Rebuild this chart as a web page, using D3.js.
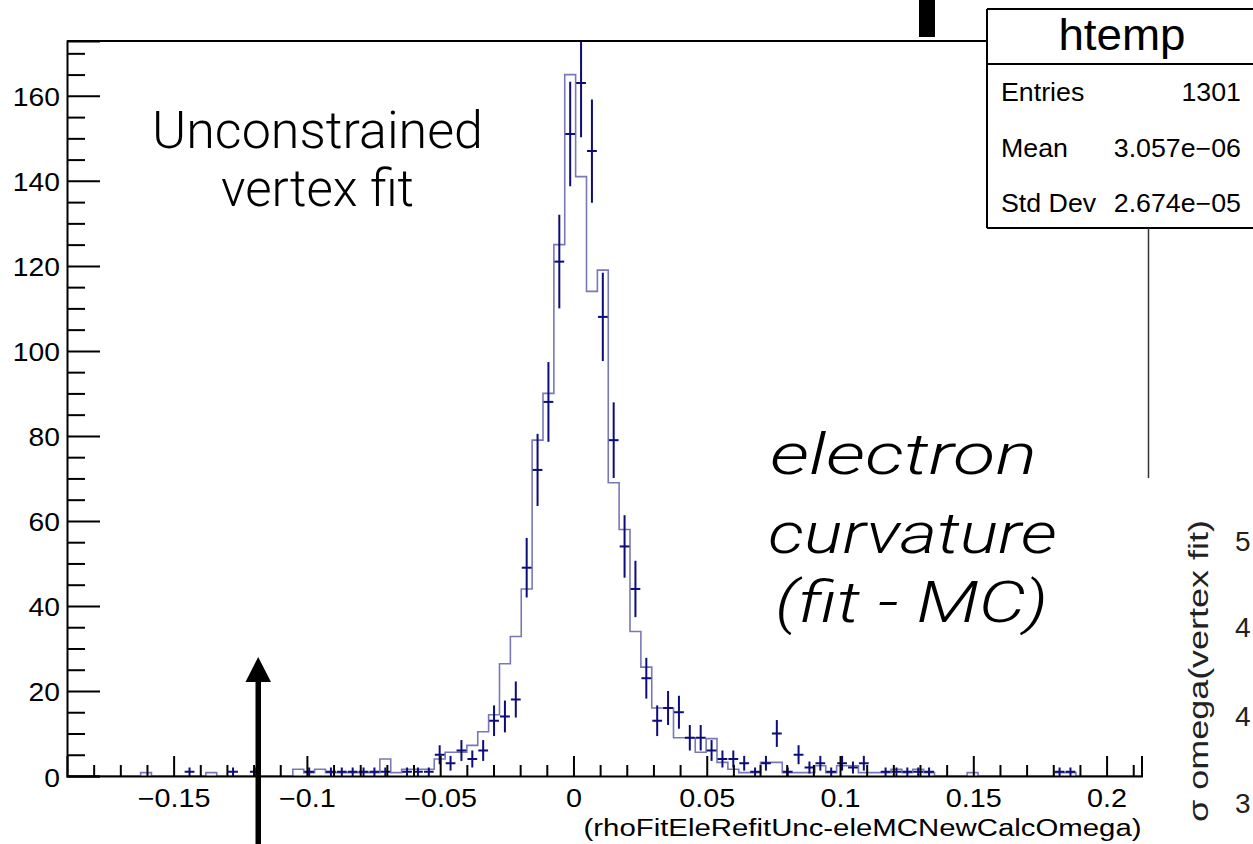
<!DOCTYPE html>
<html><head><meta charset="utf-8">
<script src="https://cdn.jsdelivr.net/npm/d3@7"></script>
<style>html,body{margin:0;padding:0;background:#fff;overflow:hidden}</style>
</head><body>
<svg id="c" width="1253" height="844"></svg>
<script>
// ---- data ----
const binStart = -0.19095;
const binWidth = 0.00408;
// overlaid reference histogram (scaled), bins 0..98
const histValues = [
  0,0,0,0,0,0,0,0.8,0,0,
  0,0,0,0.8,0,0,0,0,0,0,
  0,1.6,0.8,1.6,0.8,0.8,0.8,0.8,0.8,4.0,
  0.8,1.6,1.6,1.6,4.0,5.6,5.6,7.2,10.4,14.4,
  26.4,32.8,44,79,90,125,165,141,114,119,
  69,58,34,25.6,16,16,9,9,5.6,8.8,
  3.2,1.6,0.8,0.8,3.2,3.2,0.8,0.8,0.8,2.4,
  0.8,2.4,2.4,0.8,0.8,0.8,1.6,0.8,1.6,0.8,
  0,0,0,0.8,0,0,0,0,0,0,
  0,0.8,0.8,0,0,0,0,0,0
];
// htemp entries per bin (error-bar points), bins 0..98
const pointCounts = [
  0,0,0,0,0,0,0,0,0,0,
  0,1,0,0,0,1,0,1,0,0,
  0,0,1,0,1,1,1,1,1,1,
  0,1,1,1,5,3,6,4,6,13,
  14,18,49,72,88,121,151,163,147,108,
  79,54,44,23,13,16,15,9,9,6,
  4,4,3,1,3,10,1,5,2,3,
  1,3,2,3,0,1,1,1,1,1,
  0,0,0,0,0,0,0,0,0,0,
  0,1,1,0,0,0,0,0,0
];
const xDomain = [-0.19, 0.2131];
const yDomain = [0, 172.9];
const xTicks = [-0.15, -0.1, -0.05, 0, 0.05, 0.1, 0.15, 0.2];
const xTickLabels = ["\u22120.15", "\u22120.1", "\u22120.05", "0", "0.05", "0.1", "0.15", "0.2"];
const xMinorTicks = d3.range(-18, 22).map(d => d / 100);
const yTicks = [0, 20, 40, 60, 80, 100, 120, 140, 160];
const yMinorTicks = d3.range(5, 175, 5);
const xTitle = "(rhoFitEleRefitUnc-eleMCNewCalcOmega)";
const statTitle = "htemp";
const statNames = ["Entries", "Mean", "Std Dev"];
const statValues = ["1301", "3.057e\u221206", "2.674e\u221205"];
const noteLeft = ["Unconstrained", "vertex fit"];
const noteRight = ["electron", "curvature", "(fit - MC)"];
const sideLabel = "\u03c3 omega(vertex fit)";
const sideTicks = ["5", "4", "4", "3"];

// ---- layout ----
const L = 67, R = 1141.5, T = 41, B = 776;
const ROOT = "'Liberation Sans', Arial, Helvetica, sans-serif";
const LIGHT = "Roboto, 'Open Sans', sans-serif";
const svg = d3.select("#c");
const x = d3.scaleLinear().domain(xDomain).range([L, R]);
const y = d3.scaleLinear().domain(yDomain).range([B, T]);

function stretch(sel, k) {
  sel.each(function () {
    const len = this.getComputedTextLength();
    this.setAttribute("textLength", len * k);
    this.setAttribute("lengthAdjust", "spacingAndGlyphs");
  });
}
function fitWidth(sel, w) {
  sel.attr("textLength", w).attr("lengthAdjust", "spacingAndGlyphs");
}

svg.append("defs").append("clipPath").attr("id", "plot")
  .append("rect").attr("x", L).attr("y", T).attr("width", R - L).attr("height", B - T);

// histogram outline
const hpts = [];
histValues.forEach((v, i) => {
  const e0 = binStart + i * binWidth, e1 = e0 + binWidth;
  hpts.push([x(e0), y(v)], [x(e1), y(v)]);
});
svg.append("path")
  .attr("clip-path", "url(#plot)")
  .attr("d", d3.line()(hpts))
  .attr("fill", "none")
  .attr("stroke", "#7878b8")
  .attr("stroke-width", 1.6);

// error-bar points
const pts = pointCounts.map((c, i) => ({ i, c })).filter(d => d.c > 0);
const gp = svg.append("g").attr("clip-path", "url(#plot)")
  .attr("stroke", "#0c0c7a").attr("stroke-width", 2);
gp.selectAll("line.h").data(pts).join("line").attr("class", "h")
  .attr("x1", d => x(binStart + (d.i + 0.05) * binWidth))
  .attr("x2", d => x(binStart + (d.i + 0.95) * binWidth))
  .attr("y1", d => y(d.c)).attr("y2", d => y(d.c));
gp.selectAll("line.v").data(pts).join("line").attr("class", "v")
  .attr("x1", d => x(binStart + (d.i + 0.5) * binWidth))
  .attr("x2", d => x(binStart + (d.i + 0.5) * binWidth))
  .attr("y1", d => y(d.c - Math.sqrt(d.c)))
  .attr("y2", d => y(d.c + Math.sqrt(d.c)));

// axes
const xMajor = svg.append("g").attr("transform", `translate(0,${B})`)
  .call(d3.axisBottom(x).tickValues(xTicks).tickSize(-20).tickPadding(13)
    .tickFormat((d, i) => xTickLabels[i]));
svg.append("g").attr("transform", `translate(0,${B})`)
  .call(d3.axisBottom(x).tickValues(xMinorTicks.filter(t => !xTicks.some(m => Math.abs(m - t) < 1e-9))).tickSize(-11).tickFormat(""))
  .call(g => g.select(".domain").remove());
const yMajor = svg.append("g").attr("transform", `translate(${L},0)`)
  .call(d3.axisLeft(y).tickValues(yTicks).tickSize(-33).tickPadding(7));
svg.append("g").attr("transform", `translate(${L},0)`)
  .call(d3.axisLeft(y).tickValues(yMinorTicks.filter(t => t % 20 !== 0)).tickSize(-18).tickFormat(""))
  .call(g => g.select(".domain").remove());
svg.selectAll(".domain").attr("stroke", "#000").attr("stroke-width", 2);
svg.selectAll(".tick line").attr("stroke", "#000").attr("stroke-width", 2);
xMajor.selectAll("text").attr("font-family", ROOT).attr("font-size", 25).attr("fill", "#000");
yMajor.selectAll("text").attr("font-family", ROOT).attr("font-size", 25).attr("fill", "#000").attr("dy", "0.4em");
stretch(xMajor.selectAll("text"), 1.15);
stretch(yMajor.selectAll("text"), 1.13);

// top frame line (up to the stats box)
svg.append("line").attr("x1", L).attr("x2", 987).attr("y1", T).attr("y2", T)
  .attr("stroke", "#000").attr("stroke-width", 2);

// x title
const xt = svg.append("text").attr("x", R).attr("y", 836).attr("text-anchor", "end")
  .attr("font-family", ROOT).attr("font-size", 23).text(xTitle);
fitWidth(xt, 558);

// stats box
const sb = svg.append("g");
sb.append("rect").attr("x", 987).attr("y", 9).attr("width", 266).attr("height", 219)
  .attr("fill", "#fff").attr("stroke", "none");
[[987, 9, 1253, 9], [987, 9, 987, 228], [987, 228, 1253, 228], [987, 64, 1253, 64]].forEach(l =>
  sb.append("line").attr("x1", l[0]).attr("y1", l[1]).attr("x2", l[2]).attr("y2", l[3])
    .attr("stroke", "#000").attr("stroke-width", 2));
sb.append("text").attr("x", 1122).attr("y", 50).attr("text-anchor", "middle")
  .attr("font-family", ROOT).attr("font-size", 44).text(statTitle).call(s => stretch(s, 1.04));
statNames.forEach((n, i) => {
  const by = 101 + i * 55.5;
  sb.append("text").attr("x", 1001).attr("y", by).attr("font-family", ROOT)
    .attr("font-size", 25).text(n).call(s => stretch(s, 1.07));
  sb.append("text").attr("x", 1241).attr("y", by).attr("text-anchor", "end").attr("font-family", ROOT)
    .attr("font-size", 25).text(statValues[i]).call(s => stretch(s, 1.07));
});
// connector line below the stats box (neighbouring plot)
svg.append("line").attr("x1", 1148.5).attr("x2", 1148.5).attr("y1", 228).attr("y2", 478)
  .attr("stroke", "#333").attr("stroke-width", 1.5);
// dark bar at top edge (neighbouring element)
svg.append("rect").attr("x", 919).attr("y", 0).attr("width", 16).attr("height", 37).attr("fill", "#000");

// annotations
const ta = svg.append("g").attr("font-family", LIGHT).attr("font-weight", 300).attr("fill", "#000");
ta.append("text").attr("x", 317.5).attr("y", 148).attr("text-anchor", "middle").attr("font-size", 52)
  .text(noteLeft[0]).call(s => fitWidth(s, 331));
ta.append("text").attr("x", 317.5).attr("y", 206).attr("text-anchor", "middle").attr("font-size", 52)
  .text(noteLeft[1]).call(s => fitWidth(s, 193));
const nr = [[903.5, 474, 267], [912.5, 553, 289], [911.5, 622, 273]];
noteRight.forEach((t, i) => {
  ta.append("text").attr("x", nr[i][0]).attr("y", nr[i][1]).attr("text-anchor", "middle")
    .attr("font-size", 58).attr("font-style", "italic").text(t).call(s => fitWidth(s, nr[i][2]));
});

// arrow
svg.append("rect").attr("x", 255.5).attr("y", 678).attr("width", 5.5).attr("height", 170).attr("fill", "#000");
svg.append("path").attr("d", "M258.2,657 L245.5,682 L271,682 Z").attr("fill", "#000");

// neighbouring plot's y label and ticks (at the right edge)
svg.append("text").attr("transform", "translate(1208,671) rotate(-90)").attr("text-anchor", "middle")
  .attr("font-family", ROOT).attr("font-size", 27).attr("fill", "#222").text(sideLabel)
  .call(s => fitWidth(s, 302));
const sideY = [551, 637, 726, 813];
sideTicks.forEach((t, i) => svg.append("text").attr("x", 1235).attr("y", sideY[i])
  .attr("font-family", ROOT).attr("font-size", 28).attr("fill", "#222").text(t));
</script>
</body></html>
